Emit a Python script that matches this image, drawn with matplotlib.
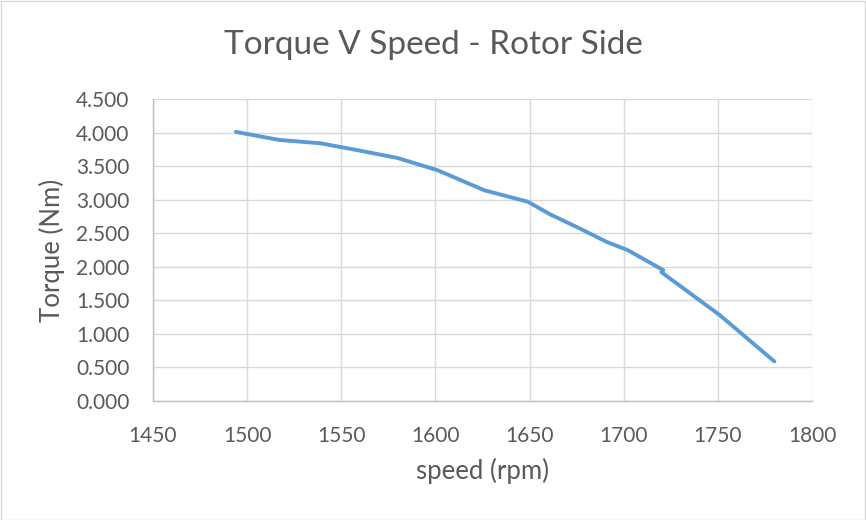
import matplotlib

matplotlib.use("Agg")

import matplotlib.pyplot as plt  # noqa: E402
from matplotlib.patches import Rectangle  # noqa: E402
from matplotlib.ticker import FormatStrFormatter, MultipleLocator  # noqa: E402

# Data (rpm vs Nm)
speed_rpm = [1494, 1517, 1539, 1560, 1580, 1601, 1626, 1649, 1661,
             1676, 1691, 1702, 1721, 1720, 1751, 1780]
torque_nm = [4.01, 3.89, 3.84, 3.73, 3.62, 3.44, 3.14, 2.97, 2.78,
             2.58, 2.37, 2.25, 1.95, 1.92, 1.28, 0.59]

title_text = "Torque V Speed - Rotor Side"
x_label = "speed (rpm)"
y_label = "Torque (Nm)"

_LINE_COLOR = "#5b9bd5"
_GRID_COLOR = "#d9d9d9"
_TEXT_COLOR = "#595959"
_FONT = ["Lato", "DejaVu Sans"]

plt.rcParams["font.family"] = _FONT

W, H = 866, 520
fig = plt.figure(figsize=(W / 100, H / 100), dpi=100)
ax = fig.add_axes([153 / W, 1 - 401 / H, 659 / W, 302 / H])

ax.plot(speed_rpm, torque_nm, color=_LINE_COLOR, linewidth=2.8,
        solid_capstyle="round", solid_joinstyle="round", zorder=3)

ax.set_xlim(1450, 1800)
ax.set_ylim(0, 4.5)
ax.xaxis.set_major_locator(MultipleLocator(50))
ax.yaxis.set_major_locator(MultipleLocator(0.5))
ax.yaxis.set_major_formatter(FormatStrFormatter("%.3f"))

ax.grid(True, color=_GRID_COLOR, linewidth=1.0)
ax.set_axisbelow(True)
for name, spine in ax.spines.items():
    spine.set_visible(name in ("left", "bottom"))
    spine.set_color("#bfbfbf")
    spine.set_linewidth(1.0)
ax.tick_params(length=0, colors=_TEXT_COLOR, labelsize=15)
ax.tick_params(axis="x", pad=18)
ax.tick_params(axis="y", pad=17)

ax.set_xlabel(x_label, color=_TEXT_COLOR, fontsize=18.5, va="center")
ax.set_ylabel(y_label, color=_TEXT_COLOR, fontsize=18.5, va="center")
ax.xaxis.set_label_coords(0.5, (401 - 471) / 302)
ax.yaxis.set_label_coords((52 - 153) / 659, 0.5)
fig.text(0.5, 1 - 45 / H, title_text, ha="center", va="center",
         color=_TEXT_COLOR, fontsize=24)

# Chart-area border like the spreadsheet export
fig.patches.append(Rectangle((0.5 / W, 0.5 / H), 1 - 1.5 / W, 1 - 1.5 / H,
                             transform=fig.transFigure, fill=False,
                             edgecolor="#d9d9d9", linewidth=1.0))

fig.savefig("out.png", dpi=100, facecolor="white")
plt.close(fig)
